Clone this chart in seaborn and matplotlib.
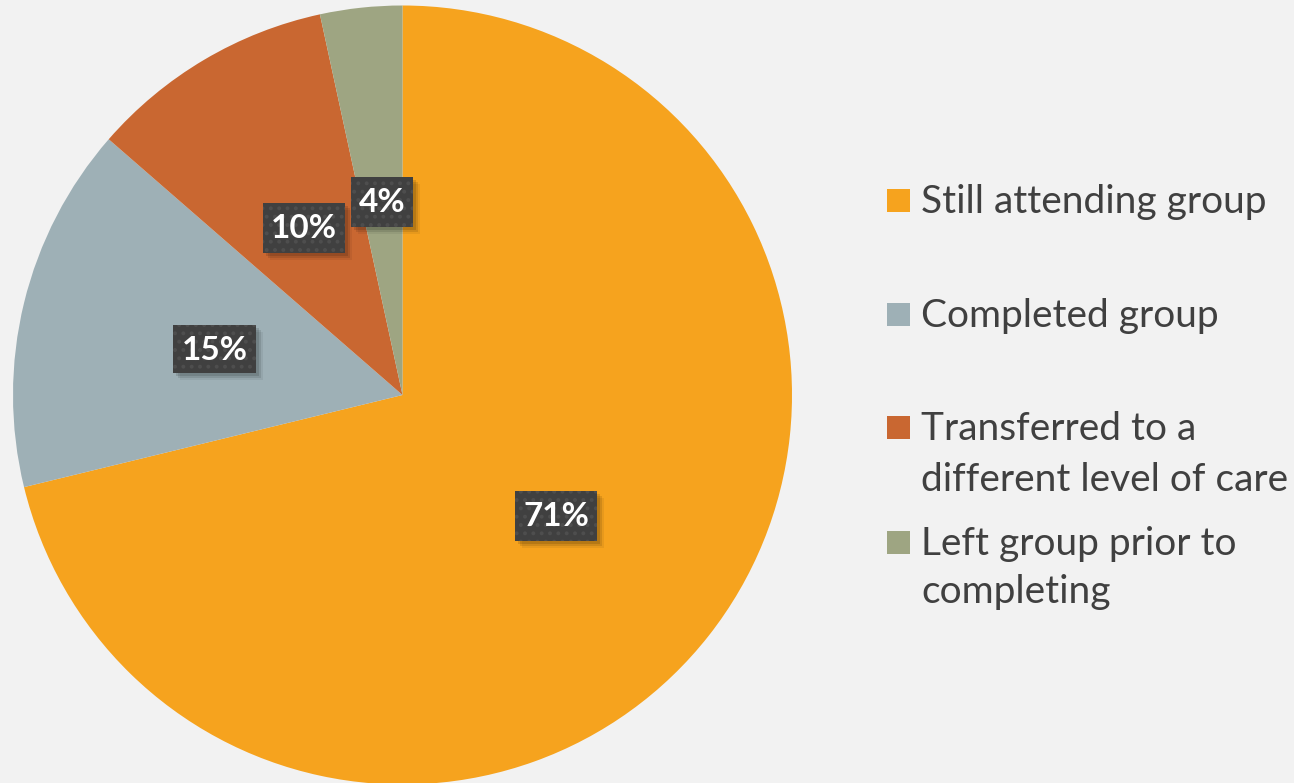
import matplotlib
matplotlib.use("Agg")
import matplotlib.pyplot as plt
import seaborn as sns
from matplotlib.patches import Rectangle

categories = ["Still attending group", "Completed group",
              "Transferred to a different level of care",
              "Left group prior to completing"]
legend_lines = [["Still attending group"], ["Completed group"],
                ["Transferred to a", "different level of care"],
                ["Left group prior to", "completing"]]
values = [71.2, 15.2, 10.2, 3.4]
pct_labels = ["71%", "15%", "10%", "4%"]
colors = ["#F6A31E", "#9EB0B6", "#C96731", "#9EA582"]

sns.set_theme(style="white")
plt.rcParams['font.family'] = ['Lato', 'DejaVu Sans']
plt.rcParams['hatch.linewidth'] = 1.6

W, H = 1294, 783
fig = plt.figure(figsize=(W / 100, H / 100), dpi=100)
fig.patch.set_facecolor("#F2F2F2")

cx, cy, r = 402.5, 395, 389.5
ax = fig.add_axes([(cx - r) / W, (H - cy - r) / H, 2 * r / W, 2 * r / H])
ax.set_facecolor("none")
ax.pie(values, colors=colors, startangle=90, counterclock=False,
       radius=1, wedgeprops=dict(linewidth=0))
ax.set_xlim(-1, 1)
ax.set_ylim(-1, 1)
ax.set_aspect("auto")
ax.axis("off")


def frect(x0, y0, x1, y1, **kw):
    """rectangle given in pixel coords from the top-left corner"""
    return Rectangle((x0 / W, 1 - y1 / H), (x1 - x0) / W, (y1 - y0) / H,
                     transform=fig.transFigure, **kw)


# label boxes (pixel extents) and text
label_boxes = [(515, 491, 597, 541), (173, 325, 256, 373),
               (263, 203, 345, 253), (351, 177, 413, 227)]
for (x0, y0, x1, y1), lab in zip(label_boxes, pct_labels):
    for k, a in ((7, 0.06), (5, 0.10), (3, 0.12)):
        fig.patches.append(frect(x0 + k, y0 + k, x1 + k, y1 + k,
                                 fc=(0, 0, 0, a), ec="none"))
    fig.patches.append(frect(x0, y0, x1, y1, fc="#404040", ec="#4E4E4E",
                             lw=0, hatch=".."))
    fig.text((x0 + x1) / 2 / W, 1 - ((y0 + y1) / 2 + 1) / H, lab,
             ha="center", va="center", fontsize=24, fontweight="bold",
             color="white")

# legend
text_color = "#404040"
sq_y = [200.5, 314.5, 428, 542]
base_y = [[213], [327], [440, 491], [555, 603]]
for color, lines, sy, bys in zip(colors, legend_lines, sq_y, base_y):
    fig.patches.append(frect(887, sy - 11.5, 910, sy + 11.5, fc=color, ec="none"))
    for line, by in zip(lines, bys):
        fig.text(921 / W, 1 - by / H, line, ha="left", va="baseline",
                 fontsize=28, color=text_color)

fig.savefig("out.png", dpi=100, facecolor=fig.get_facecolor())
